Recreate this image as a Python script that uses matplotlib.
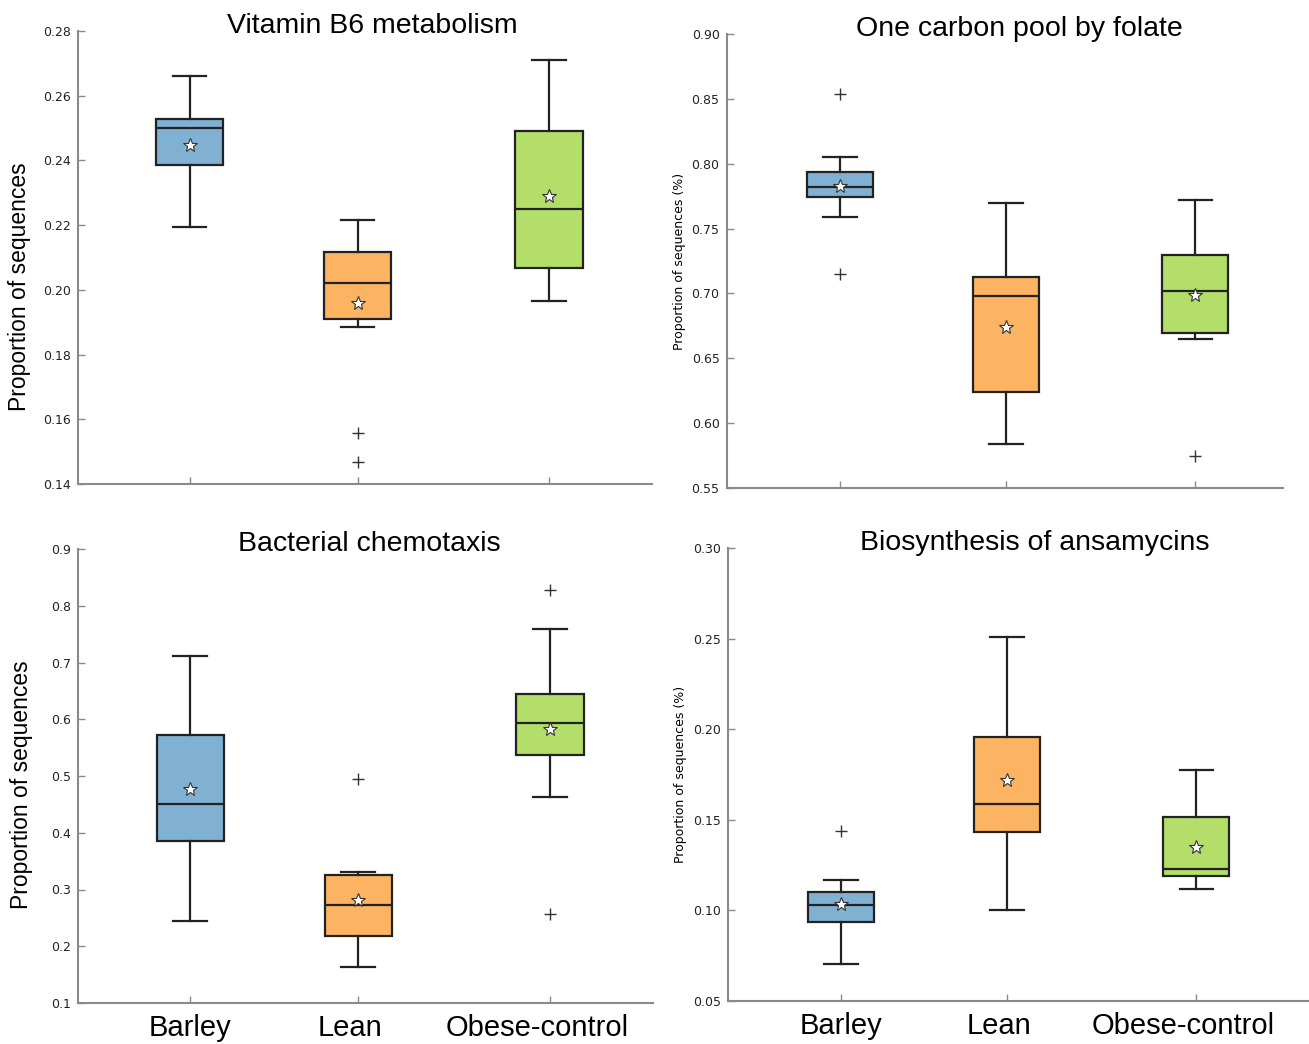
import matplotlib
matplotlib.use("Agg")
import matplotlib.pyplot as plt
from matplotlib.transforms import offset_copy

groups = ["Barley", "Lean", "Obese-control"]
colors = ["#80b1d3", "#fdb462", "#b3de69"]
positions = [1.0, 2.0, 3.14]

# Vitamin B6 metabolism
b6_low = [0.2195, 0.1886, 0.1967]
b6_q1 = [0.2387, 0.1911, 0.2069]
b6_med = [0.2499, 0.2021, 0.2251]
b6_q3 = [0.2528, 0.2116, 0.2492]
b6_high = [0.2661, 0.2217, 0.2711]
b6_mean = [0.2449, 0.1958, 0.2291]
b6_fliers = [[], [0.1557, 0.1467], []]

# One carbon pool by folate
fol_low = [0.7590, 0.5840, 0.6646]
fol_q1 = [0.7741, 0.6243, 0.6698]
fol_med = [0.7820, 0.6982, 0.7015]
fol_q3 = [0.7936, 0.7127, 0.7300]
fol_high = [0.8051, 0.7699, 0.7721]
fol_mean = [0.7829, 0.6740, 0.6986]
fol_fliers = [[0.8537, 0.7147], [], [0.5745]]

# Bacterial chemotaxis
che_low = [0.2440, 0.1640, 0.4635]
che_q1 = [0.3858, 0.2181, 0.5368]
che_med = [0.4507, 0.2728, 0.5934]
che_q3 = [0.5715, 0.3250, 0.6446]
che_high = [0.7120, 0.3315, 0.7582]
che_mean = [0.4768, 0.2811, 0.5830]
che_fliers = [[], [0.4955], [0.8284, 0.2576]]

# Biosynthesis of ansamycins
ans_low = [0.0702, 0.1003, 0.1120]
ans_q1 = [0.0935, 0.1434, 0.1189]
ans_med = [0.1031, 0.1586, 0.1229]
ans_q3 = [0.1099, 0.1959, 0.1516]
ans_high = [0.1170, 0.2510, 0.1777]
ans_mean = [0.1036, 0.1718, 0.1348]
ans_fliers = [[0.1438], [], []]

spine_col = "#8a8a8a"
fig = plt.figure(figsize=(13.09, 10.44), dpi=100)

# the group names sit a little left of their ticks (pixels)
label_shift = [0, -8, -13]


def panel(rect, title, low, q1, med, q3, high, mean, fliers, yticks, fmt,
          ylabel, big_label, label_x, label_y, xlim, title_x, show_x):
    ax = fig.add_axes(rect)
    stats = []
    for i in range(len(groups)):
        stats.append(dict(whislo=low[i], q1=q1[i], med=med[i], q3=q3[i],
                          whishi=high[i], mean=mean[i], fliers=fliers[i]))
    bp = ax.bxp(stats, positions=positions, widths=0.4, patch_artist=True,
                showmeans=True, manage_ticks=False,
                boxprops=dict(edgecolor="#222222", linewidth=1.6),
                medianprops=dict(color="#222222", linewidth=1.6),
                whiskerprops=dict(color="#222222", linewidth=1.6),
                capprops=dict(color="#222222", linewidth=1.6),
                meanprops=dict(marker="*", markerfacecolor="white",
                               markeredgecolor="#333333", markersize=10,
                               markeredgewidth=0.8),
                flierprops=dict(marker="+", markeredgecolor="#333333",
                                markersize=9, markeredgewidth=1.0))
    for box, c in zip(bp["boxes"], colors):
        box.set_facecolor(c)

    ax.set_xlim(xlim)
    ax.set_ylim(yticks[0], yticks[-1])
    ax.set_yticks(yticks)
    ax.set_yticklabels([fmt % t for t in yticks], fontsize=9,
                       family="DejaVu Sans", color="#222222")
    ax.set_xticks(positions)
    ax.set_xticklabels([])
    if show_x:
        for x, name, dx in zip(positions, groups, label_shift):
            tr = offset_copy(ax.get_xaxis_transform(), fig=fig, x=dx, y=-11,
                             units="dots")
            ax.text(x, 0, name, transform=tr, ha="center", va="top",
                    fontsize=21, family="Liberation Sans")
    for s in ["top", "right"]:
        ax.spines[s].set_visible(False)
    for s in ["left", "bottom"]:
        ax.spines[s].set_color(spine_col)
        ax.spines[s].set_linewidth(1.5)
    ax.tick_params(axis="both", direction="in", length=5, width=1,
                   color=spine_col)
    ax.tick_params(axis="y", pad=5)

    if big_label:
        ax.set_ylabel(ylabel, fontsize=16.5, family="Liberation Sans")
    else:
        ax.set_ylabel(ylabel, fontsize=9, family="DejaVu Sans")
    ax.yaxis.set_label_coords(label_x, label_y)
    ax.set_title(title, fontsize=20.5, family="Liberation Sans", x=title_x,
                 y=0.995, pad=0)
    return ax


W, H = 1309.0, 1044.0

panel([77.5 / W, 1 - 484 / H, 574.5 / W, 453 / H], "Vitamin B6 metabolism",
      b6_low, b6_q1, b6_med, b6_q3, b6_high, b6_mean, b6_fliers,
      [0.14, 0.16, 0.18, 0.20, 0.22, 0.24, 0.26, 0.28], "%.2f",
      "Proportion of sequences", True, -0.081, 0.435, (0.333, 3.753), 0.513, False)

panel([726.5 / W, 1 - 488 / H, 556.5 / W, 454 / H], "One carbon pool by folate",
      fol_low, fol_q1, fol_med, fol_q3, fol_high, fol_mean, fol_fliers,
      [0.55, 0.60, 0.65, 0.70, 0.75, 0.80, 0.85, 0.90], "%.2f",
      "Proportion of sequences (%)", False, -0.073, 0.5, (0.316, 3.669), 0.527, False)

panel([78 / W, 1 - 1003 / H, 575 / W, 454 / H], "Bacterial chemotaxis",
      che_low, che_q1, che_med, che_q3, che_high, che_mean, che_fliers,
      [0.1, 0.2, 0.3, 0.4, 0.5, 0.6, 0.7, 0.8, 0.9], "%.1f",
      "Proportion of sequences", True, -0.078, 0.48, (0.333, 3.753), 0.506, True)

panel([728 / W, 1 - 1001 / H, 581 / W, 453 / H], "Biosynthesis of ansamycins",
      ans_low, ans_q1, ans_med, ans_q3, ans_high, ans_mean, ans_fliers,
      [0.05, 0.10, 0.15, 0.20, 0.25, 0.30], "%.2f",
      "Proportion of sequences (%)", False, -0.071, 0.5, (0.319, 3.82), 0.528, True)

fig.savefig("out.png", dpi=100)
